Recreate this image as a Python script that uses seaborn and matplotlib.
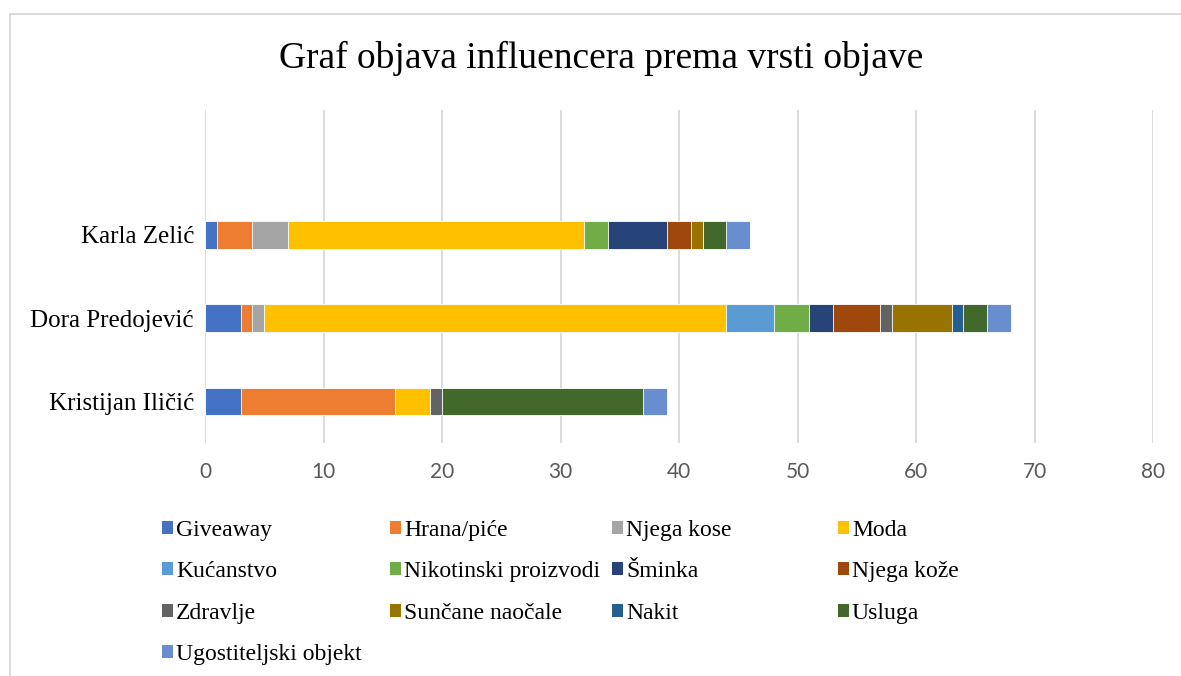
import numpy as np
import pandas as pd
import matplotlib
matplotlib.use("Agg")
import matplotlib.pyplot as plt
from matplotlib.patches import Patch, Rectangle
import seaborn as sns

influencers = ["Karla Zelić", "Dora Predojević", "Kristijan Iličić"]
categories = ["Giveaway", "Hrana/piće", "Njega kose", "Moda", "Kućanstvo",
              "Nikotinski proizvodi", "Šminka", "Njega kože", "Zdravlje",
              "Sunčane naočale", "Nakit", "Usluga", "Ugostiteljski objekt"]
karla = [1, 3, 3, 25, 0, 2, 5, 2, 0, 1, 0, 2, 2]
dora = [3, 1, 1, 39, 4, 3, 2, 4, 1, 5, 1, 2, 2]
kristijan = [3, 13, 0, 3, 0, 0, 0, 0, 1, 0, 0, 17, 2]
colors = ["#4472C4", "#ED7D31", "#A5A5A5", "#FFC000", "#5B9BD5", "#70AD47",
          "#264478", "#9E480E", "#636363", "#997300", "#255E91", "#43682B",
          "#698ED0"]
title = "Graf objava influencera prema vrsti objave"

sns.set_theme(style="white")
plt.rcParams["font.family"] = ["Liberation Serif", "DejaVu Serif"]
plt.rcParams["text.color"] = "#000000"

df = pd.DataFrame({"Influencer": np.repeat(influencers, len(categories)),
                   "Kategorija": categories * len(influencers),
                   "Broj": karla + dora + kristijan})
df["Kum"] = df.groupby("Influencer")["Broj"].cumsum()

W, H = 1181, 676
fig = plt.figure(figsize=(W / 100, H / 100), dpi=100)
ax = fig.add_axes([205 / W, 1 - 443 / H, (1153 - 205) / W, (443 - 110) / H])

order = [""] + influencers
for i in range(len(categories) - 1, -1, -1):
    sub = df[df["Kategorija"] == categories[i]]
    sns.barplot(data=sub, x="Kum", y="Influencer", order=order, orient="h",
                color=colors[i], width=0.33, ax=ax, edgecolor="white",
                linewidth=0.6, saturation=1)

ax.set_xlim(0, 80)
ax.set_ylim(3.5, -0.5)
ax.set_xticks(range(0, 81, 10))
ax.xaxis.grid(True, color="#D9D9D9", linewidth=1.3)
ax.set_axisbelow(True)
for s in ax.spines.values():
    s.set_visible(False)
ax.set_xlabel("")
ax.set_ylabel("")
ax.tick_params(axis="x", length=0, pad=14, labelsize=15, labelcolor="#595959")
for lbl in ax.get_xticklabels():
    lbl.set_fontfamily(["Lato", "DejaVu Sans"])
ax.tick_params(axis="y", length=0, pad=8, labelsize=18, labelcolor="#000000")

fig.text(601 / W, 1 - 58 / H, title, ha="center", va="center", fontsize=27,
         color="#000000")

# chart border
fig.add_artist(Rectangle((10 / W, -0.1), 1.2, 1 - 14 / H + 0.1,
                         transform=fig.transFigure, fill=False,
                         edgecolor="#D9D9D9", linewidth=1.3))

col_x = [162, 390, 612, 838]
for c in range(4):
    idx = list(range(c, len(categories), 4))
    handles = [Patch(facecolor=colors[i], edgecolor="none") for i in idx]
    labels = [categories[i] for i in idx]
    fig.legend(handles, labels, loc="upper left",
               bbox_to_anchor=(col_x[c] / W, 1 - 520 / H), frameon=False,
               fontsize=17, borderpad=0, borderaxespad=0,
               handlelength=0.47, handleheight=0.47, handletextpad=0.12,
               labelspacing=0.86, labelcolor="#000000")

fig.savefig("out.png", dpi=100)
